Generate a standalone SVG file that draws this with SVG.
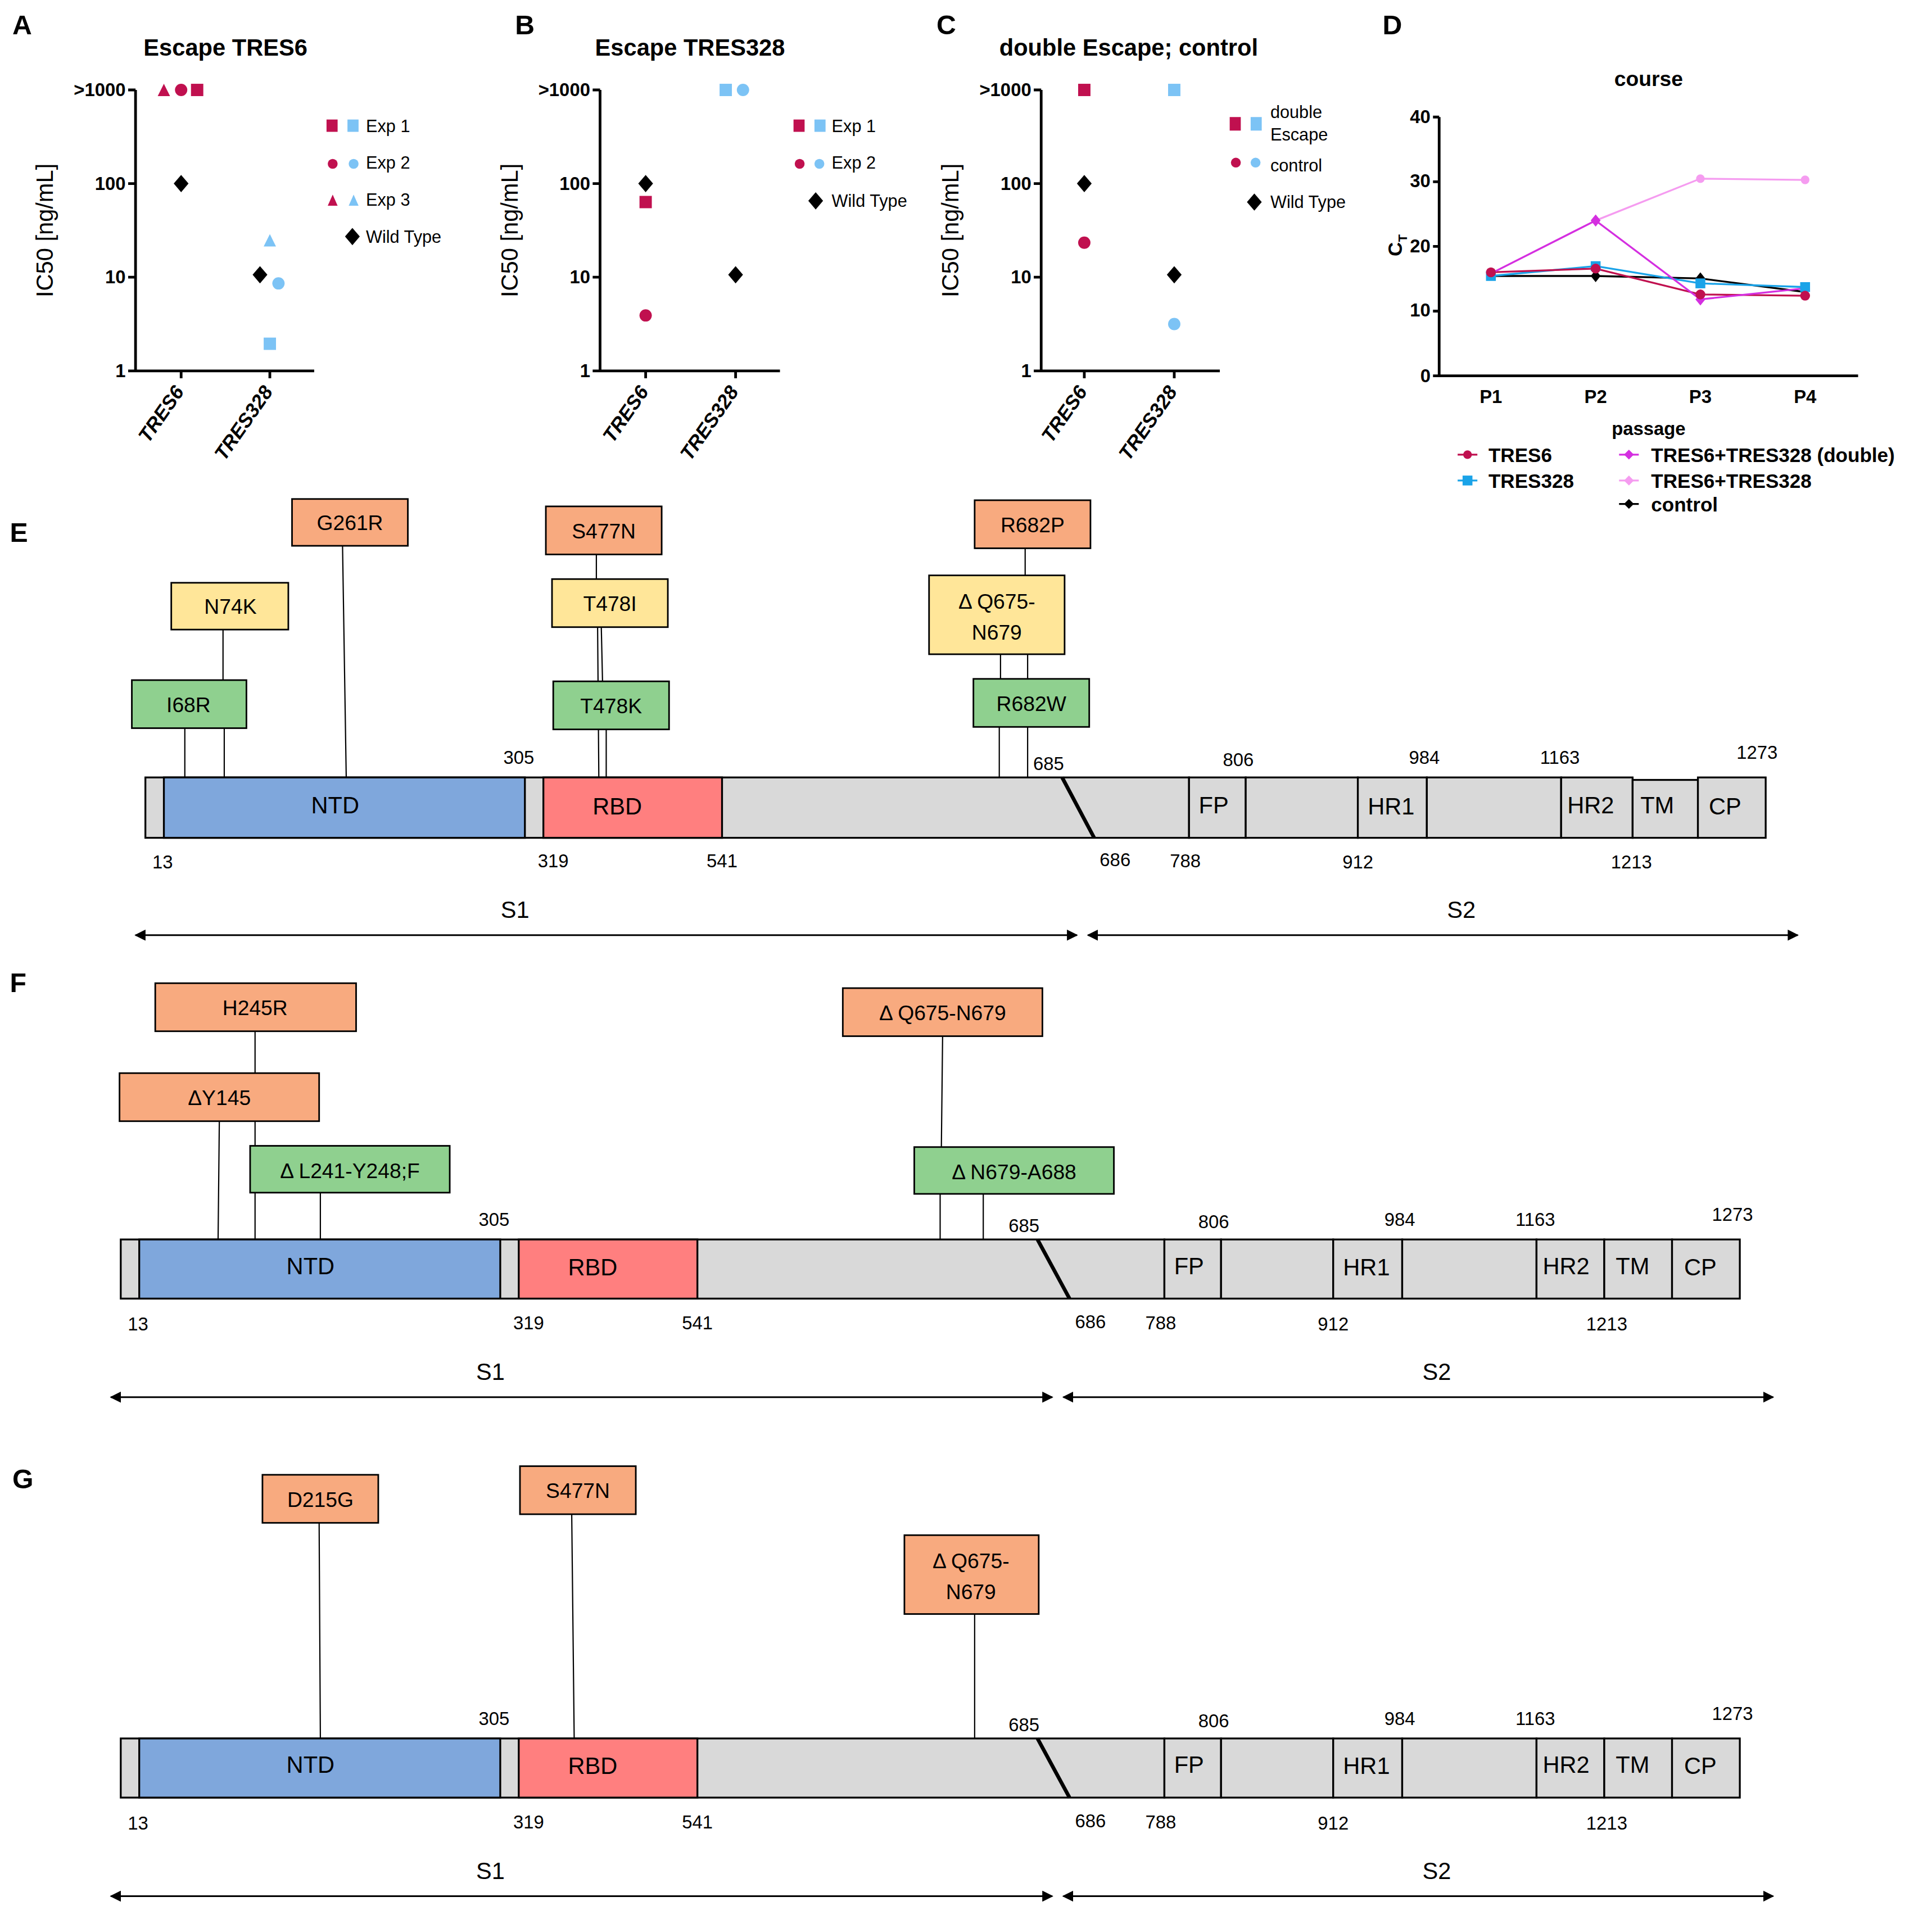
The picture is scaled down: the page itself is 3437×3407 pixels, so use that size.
<svg xmlns="http://www.w3.org/2000/svg" width="3437" height="3407" viewBox="0 0 3437 3407">
<style>
text{font-family:"Liberation Sans",Arial,sans-serif;fill:#000}
.pl{font-size:22px;font-weight:bold}
.ti{font-size:19px;font-weight:bold}
.tk{font-size:15px;font-weight:bold;text-anchor:end}
.yl{font-size:19px;text-anchor:middle}
.cat{font-size:16px;font-weight:bold;font-style:italic;text-anchor:end}
.lg{font-size:14px}
.ax{stroke:#000;stroke-width:2.2;fill:none}
.bx{stroke:#000;stroke-width:1.3}
.or{fill:#F8AA7F}.ye{fill:#FFE699}.gr{fill:#8FD08F}
.ml{font-size:17px;text-anchor:middle}
.num{font-size:15px;text-anchor:middle}
.dom{stroke:#000;stroke-width:1.5;fill:#D9D9D9}
.dl{font-size:19px;text-anchor:middle}
.cn{stroke:#000;stroke-width:1;fill:none}
.ar{stroke-width:1.3;marker-start:url(#ah);marker-end:url(#ah)}
.dt{font-size:15px;font-weight:bold;text-anchor:middle}
.r{fill:#C0104F}.b{fill:#7CC3F5}.k{fill:#000}
</style>
<defs>
<marker id="ah" viewBox="0 0 10 10" refX="9" refY="5" markerWidth="9" markerHeight="9" markerUnits="userSpaceOnUse" orient="auto-start-reverse"><path d="M0,0L10,5L0,10z" fill="#000"/></marker>
<symbol id="dia" viewBox="-6 -8 12 16" overflow="visible"><path d="M0,-7L6,0L0,7L-6,0z"/></symbol>
</defs>
<rect width="3437" height="3407" fill="#fff"/>
<g transform="scale(2.192)">
<text class="pl" x="10" y="28">A</text><text class="pl" x="418" y="28">B</text><text class="pl" x="760" y="28">C</text><text class="pl" x="1122" y="28">D</text>
<text class="pl" x="8" y="440">E</text><text class="pl" x="8" y="805">F</text><text class="pl" x="10" y="1208">G</text>

<g id="panelA">
<text class="ti" x="183" y="45" text-anchor="middle">Escape TRES6</text>
<path class="ax" d="M110,73V301H255M147,301v6M219,301v6M104,73h6M104,149h6M104,225h6M104,301h6"/>
<text class="tk" x="102" y="78">&gt;1000</text><text class="tk" x="102" y="154">100</text><text class="tk" x="102" y="230">10</text><text class="tk" x="102" y="306">1</text>
<text class="yl" transform="translate(43,187) rotate(-90)">IC50 [ng/mL]</text>
<text class="cat" transform="translate(150,318) rotate(-55)">TRES6</text>
<text class="cat" transform="translate(222,318) rotate(-55)">TRES328</text>
<path class="r" d="M128,78L133,68L138,78z"/><circle class="r" cx="147" cy="73" r="5"/><rect class="r" x="155" y="68" width="10" height="10"/>
<use href="#dia" x="141" y="141" width="12" height="16"/>
<path class="b" d="M214,200L219,190L224,200z"/><use href="#dia" x="205" y="215" width="12" height="16"/><circle class="b" cx="226" cy="230" r="5"/><rect class="b" x="214" y="274" width="10" height="10"/>
<rect class="r" x="265" y="97" width="9" height="10"/><rect class="b" x="282" y="97" width="9" height="10"/><text class="lg" x="297" y="107">Exp 1</text>
<circle class="r" cx="270" cy="133" r="4"/><circle class="b" cx="287" cy="133" r="4"/><text class="lg" x="297" y="137">Exp 2</text>
<path class="r" d="M266,167L270,158L274,167z"/><path class="b" d="M283,167L287,158L291,167z"/><text class="lg" x="297" y="167">Exp 3</text>
<use href="#dia" x="280" y="184" width="12" height="16"/><text class="lg" x="297" y="197">Wild Type</text>
</g>

<g id="panelB">
<text class="ti" x="560" y="45" text-anchor="middle">Escape TRES328</text>
<path class="ax" d="M487,73V301H633M524,301v6M597,301v6M481,73h6M481,149h6M481,225h6M481,301h6"/>
<text class="tk" x="479" y="78">&gt;1000</text><text class="tk" x="479" y="154">100</text><text class="tk" x="479" y="230">10</text><text class="tk" x="479" y="306">1</text>
<text class="yl" transform="translate(420,187) rotate(-90)">IC50 [ng/mL]</text>
<text class="cat" transform="translate(527,318) rotate(-55)">TRES6</text>
<text class="cat" transform="translate(600,318) rotate(-55)">TRES328</text>
<use href="#dia" x="518" y="141" width="12" height="16"/><rect class="r" x="519" y="159" width="10" height="10"/><circle class="r" cx="524" cy="256" r="5"/>
<rect class="b" x="584" y="68" width="10" height="10"/><circle class="b" cx="603" cy="73" r="5"/><use href="#dia" x="591" y="215" width="12" height="16"/>
<rect class="r" x="644" y="97" width="9" height="10"/><rect class="b" x="661" y="97" width="9" height="10"/><text class="lg" x="675" y="107">Exp 1</text>
<circle class="r" cx="649" cy="133" r="4"/><circle class="b" cx="665" cy="133" r="4"/><text class="lg" x="675" y="137">Exp 2</text>
<use href="#dia" x="656" y="155" width="12" height="16"/><text class="lg" x="675" y="168">Wild  Type</text>
</g>

<g id="panelC">
<text class="ti" x="916" y="45" text-anchor="middle">double Escape; control</text>
<path class="ax" d="M845,73V301H990M880,301v6M953,301v6M839,73h6M839,149h6M839,225h6M839,301h6"/>
<text class="tk" x="837" y="78">&gt;1000</text><text class="tk" x="837" y="154">100</text><text class="tk" x="837" y="230">10</text><text class="tk" x="837" y="306">1</text>
<text class="yl" transform="translate(778,187) rotate(-90)">IC50 [ng/mL]</text>
<text class="cat" transform="translate(883,318) rotate(-55)">TRES6</text>
<text class="cat" transform="translate(956,318) rotate(-55)">TRES328</text>
<rect class="r" x="875" y="68" width="10" height="10"/><use href="#dia" x="874" y="141" width="12" height="16"/><circle class="r" cx="880" cy="197" r="5"/>
<rect class="b" x="948" y="68" width="10" height="10"/><use href="#dia" x="947" y="215" width="12" height="16"/><circle class="b" cx="953" cy="263" r="5"/>
<rect class="r" x="998" y="95" width="9" height="11"/><rect class="b" x="1015" y="95" width="9" height="11"/><text class="lg" x="1031" y="96">double</text><text class="lg" x="1031" y="114">Escape</text>
<circle class="r" cx="1003" cy="132" r="4"/><circle class="b" cx="1019" cy="132" r="4"/><text class="lg" x="1031" y="139">control</text>
<use href="#dia" x="1012" y="156" width="12" height="16"/><text class="lg" x="1031" y="169">Wild  Type</text>
</g>

<g id="panelD">
<text class="ti" x="1338" y="70" text-anchor="middle" style="font-size:17px">course</text>
<path class="ax" d="M1168,95V305H1508M1163,95h5M1163,147.5h5M1163,200h5M1163,252.5h5M1163,305h5"/>
<text class="tk" x="1161" y="100">40</text><text class="tk" x="1161" y="152">30</text><text class="tk" x="1161" y="205">20</text><text class="tk" x="1161" y="257">10</text><text class="tk" x="1161" y="310">0</text>
<text class="dt" x="1210" y="327">P1</text><text class="dt" x="1295" y="327">P2</text><text class="dt" x="1380" y="327">P3</text><text class="dt" x="1465" y="327">P4</text>
<text class="dt" x="1338" y="353">passage</text>
<text transform="translate(1138,208) rotate(-90)" style="font-size:16px;font-weight:bold">C<tspan dy="4" style="font-size:10px">T</tspan></text>
<g fill="none" stroke-width="1.5">
<polyline stroke="#F59CF0" points="1210,222 1295,179 1380,145 1465,146"/>
<polyline stroke="#000" points="1210,224 1295,224 1380,226 1465,237"/>
<polyline stroke="#1AA3E8" points="1210,224 1295,216 1380,230 1465,233"/>
<polyline stroke="#C0104F" points="1210,221 1295,218 1380,239 1465,240"/>
<polyline stroke="#D42FE0" points="1210,222 1295,179 1380,243 1465,234"/>
</g>
<g fill="#F59CF0"><circle cx="1380" cy="145" r="3.5"/><circle cx="1465" cy="146" r="3.5"/></g>
<g fill="#D42FE0"><path d="M1295,174l4,5l-4,5l-4,-5z"/><path d="M1380,238l4,5l-4,5l-4,-5z"/></g>
<g fill="#000"><path d="M1295,219l4,5l-4,5l-4,-5z"/><path d="M1380,221l4,5l-4,5l-4,-5z"/></g>
<g fill="#1AA3E8"><rect x="1206" y="220" width="8" height="8"/><rect x="1291" y="212" width="8" height="8"/><rect x="1376" y="226" width="8" height="8"/><rect x="1461" y="229" width="8" height="8"/></g>
<g fill="#C0104F"><circle cx="1210" cy="221" r="4"/><circle cx="1295" cy="218" r="4"/><circle cx="1380" cy="239" r="4"/><circle cx="1465" cy="240" r="4"/></g>
<g style="font-size:16px;font-weight:bold">
<path d="M1183,369h16" stroke="#C0104F" stroke-width="1.5"/><circle cx="1191" cy="369" r="3.5" fill="#C0104F"/><text x="1208" y="375">TRES6</text>
<path d="M1183,390h16" stroke="#1AA3E8" stroke-width="1.5"/><rect x="1187" y="386" width="8" height="8" fill="#1AA3E8"/><text x="1208" y="396">TRES328</text>
<path d="M1314,369h16" stroke="#D42FE0" stroke-width="1.5"/><path d="M1322,365l4,4l-4,4l-4,-4z" fill="#D42FE0"/><text x="1340" y="375">TRES6+TRES328 (double)</text>
<path d="M1314,390h16" stroke="#F59CF0" stroke-width="1.5"/><path d="M1322,386l4,4l-4,4l-4,-4z" fill="#F59CF0"/><text x="1340" y="396">TRES6+TRES328</text>
<path d="M1314,409h16" stroke="#000" stroke-width="1.5"/><path d="M1322,405l4,4l-4,4l-4,-4z" fill="#000"/><text x="1340" y="415">control</text>
</g>
</g>

<g id="connectors" class="cn">
<path d="M278,443L281,631M181,511V552M182,591V631M150,591V631M484,450V470M485,509L486,631M488,509L489,553M492,592V631M832,445V467M812,531V551M811,590V631M834,531V551M834,590V631"/>
<path d="M207,837V871M207,910V1006M178,910L177,1006M260,968V1006M765,841L764,931M763,969V1006M798,969V1006"/>
<path d="M259,1236L260,1411M464,1229L466,1411M791,1310V1411"/>
<path class="ar" d="M110,759H874"/><path class="ar" d="M883,759H1459"/>
<path class="ar" d="M90,1134H854"/><path class="ar" d="M863,1134H1439"/>
<path class="ar" d="M90,1539H854"/><path class="ar" d="M863,1539H1439"/>
</g>

<g id="barE">
<rect class="dom" x="118" y="631" width="847" height="49"/>
<rect class="dom" x="133" y="631" width="293" height="49" style="fill:#7FA7DC"/>
<rect class="dom" x="441" y="631" width="145" height="49" style="fill:#FF7F7F"/>
<path d="M862,631L888,680" stroke="#000" stroke-width="3"/>
<rect class="dom" x="965" y="631" width="46" height="49"/><rect class="dom" x="1011" y="631" width="91" height="49"/><rect class="dom" x="1102" y="631" width="56" height="49"/><rect class="dom" x="1158" y="631" width="109" height="49"/><rect class="dom" x="1267" y="631" width="58" height="49"/><rect class="dom" x="1325" y="633" width="53" height="47"/><rect class="dom" x="1378" y="631" width="55" height="49"/>
<text class="dl" x="272" y="660">NTD</text><text class="dl" x="501" y="661">RBD</text><text class="dl" x="985" y="660">FP</text><text class="dl" x="1129" y="661">HR1</text><text class="dl" x="1291" y="660">HR2</text><text class="dl" x="1345" y="660">TM</text><text class="dl" x="1400" y="661">CP</text>
<text class="num" x="421" y="620">305</text><text class="num" x="851" y="625">685</text><text class="num" x="1005" y="622">806</text><text class="num" x="1156" y="620">984</text><text class="num" x="1266" y="620">1163</text><text class="num" x="1426" y="616">1273</text>
<text class="num" x="132" y="705">13</text><text class="num" x="449" y="704">319</text><text class="num" x="586" y="704">541</text><text class="num" x="905" y="703">686</text><text class="num" x="962" y="704">788</text><text class="num" x="1102" y="705">912</text><text class="num" x="1324" y="705">1213</text>
<text class="dl" x="418" y="745">S1</text><text class="dl" x="1186" y="745">S2</text>
</g>
<g id="mutE">
<g id="G261R"><rect class="bx or" x="237" y="405" width="94" height="38"/><text class="ml" x="284" y="430">G261R</text></g>
<g id="N74K"><rect class="bx ye" x="139" y="473" width="95" height="38"/><text class="ml" x="187" y="498">N74K</text></g>
<g id="I68R"><rect class="bx gr" x="107" y="552" width="93" height="39"/><text class="ml" x="153" y="578">I68R</text></g>
<g id="S477N_E"><rect class="bx or" x="443" y="411" width="94" height="39"/><text class="ml" x="490" y="437">S477N</text></g>
<g id="T478I"><rect class="bx ye" x="448" y="470" width="94" height="39"/><text class="ml" x="495" y="496">T478I</text></g>
<g id="T478K"><rect class="bx gr" x="449" y="553" width="94" height="39"/><text class="ml" x="496" y="579">T478K</text></g>
<g id="R682P"><rect class="bx or" x="791" y="406" width="94" height="39"/><text class="ml" x="838" y="432">R682P</text></g>
<g id="dQ675_E"><rect class="bx ye" x="754" y="467" width="110" height="64"/><text class="ml" x="809" y="494">Δ  Q675-</text><text class="ml" x="809" y="519">N679</text></g>
<g id="R682W"><rect class="bx gr" x="790" y="551" width="94" height="39"/><text class="ml" x="837" y="577">R682W</text></g>
</g>

<g id="barF">
<rect class="dom" x="98" y="1006" width="847" height="48"/>
<rect class="dom" x="113" y="1006" width="293" height="48" style="fill:#7FA7DC"/>
<rect class="dom" x="421" y="1006" width="145" height="48" style="fill:#FF7F7F"/>
<path d="M842,1006L868,1054" stroke="#000" stroke-width="3"/>
<rect class="dom" x="945" y="1006" width="46" height="48"/><rect class="dom" x="991" y="1006" width="91" height="48"/><rect class="dom" x="1082" y="1006" width="56" height="48"/><rect class="dom" x="1138" y="1006" width="109" height="48"/><rect class="dom" x="1247" y="1006" width="55" height="48"/><rect class="dom" x="1302" y="1006" width="55" height="48"/><rect class="dom" x="1357" y="1006" width="55" height="48"/>
<text class="dl" x="252" y="1034">NTD</text><text class="dl" x="481" y="1035">RBD</text><text class="dl" x="965" y="1034">FP</text><text class="dl" x="1109" y="1035">HR1</text><text class="dl" x="1271" y="1034">HR2</text><text class="dl" x="1325" y="1034">TM</text><text class="dl" x="1380" y="1035">CP</text>
<text class="num" x="401" y="995">305</text><text class="num" x="831" y="1000">685</text><text class="num" x="985" y="997">806</text><text class="num" x="1136" y="995">984</text><text class="num" x="1246" y="995">1163</text><text class="num" x="1406" y="991">1273</text>
<text class="num" x="112" y="1080">13</text><text class="num" x="429" y="1079">319</text><text class="num" x="566" y="1079">541</text><text class="num" x="885" y="1078">686</text><text class="num" x="942" y="1079">788</text><text class="num" x="1082" y="1080">912</text><text class="num" x="1304" y="1080">1213</text>
<text class="dl" x="398" y="1120">S1</text><text class="dl" x="1166" y="1120">S2</text>
</g>
<g id="mutF">
<g id="H245R"><rect class="bx or" x="126" y="798" width="163" height="39"/><text class="ml" x="207" y="824">H245R</text></g>
<g id="dY145"><rect class="bx or" x="97" y="871" width="162" height="39"/><text class="ml" x="178" y="897">ΔY145</text></g>
<g id="dL241"><rect class="bx gr" x="203" y="930" width="162" height="38"/><text class="ml" x="284" y="956">Δ  L241-Y248;F</text></g>
<g id="dQ675_F"><rect class="bx or" x="684" y="802" width="162" height="39"/><text class="ml" x="765" y="828">Δ Q675-N679</text></g>
<g id="dN679"><rect class="bx gr" x="742" y="931" width="162" height="38"/><text class="ml" x="823" y="957">Δ N679-A688</text></g>
</g>

<g id="barG">
<rect class="dom" x="98" y="1411" width="847" height="48"/>
<rect class="dom" x="113" y="1411" width="293" height="48" style="fill:#7FA7DC"/>
<rect class="dom" x="421" y="1411" width="145" height="48" style="fill:#FF7F7F"/>
<path d="M842,1411L868,1459" stroke="#000" stroke-width="3"/>
<rect class="dom" x="945" y="1411" width="46" height="48"/><rect class="dom" x="991" y="1411" width="91" height="48"/><rect class="dom" x="1082" y="1411" width="56" height="48"/><rect class="dom" x="1138" y="1411" width="109" height="48"/><rect class="dom" x="1247" y="1411" width="55" height="48"/><rect class="dom" x="1302" y="1411" width="55" height="48"/><rect class="dom" x="1357" y="1411" width="55" height="48"/>
<text class="dl" x="252" y="1439">NTD</text><text class="dl" x="481" y="1440">RBD</text><text class="dl" x="965" y="1439">FP</text><text class="dl" x="1109" y="1440">HR1</text><text class="dl" x="1271" y="1439">HR2</text><text class="dl" x="1325" y="1439">TM</text><text class="dl" x="1380" y="1440">CP</text>
<text class="num" x="401" y="1400">305</text><text class="num" x="831" y="1405">685</text><text class="num" x="985" y="1402">806</text><text class="num" x="1136" y="1400">984</text><text class="num" x="1246" y="1400">1163</text><text class="num" x="1406" y="1396">1273</text>
<text class="num" x="112" y="1485">13</text><text class="num" x="429" y="1484">319</text><text class="num" x="566" y="1484">541</text><text class="num" x="885" y="1483">686</text><text class="num" x="942" y="1484">788</text><text class="num" x="1082" y="1485">912</text><text class="num" x="1304" y="1485">1213</text>
<text class="dl" x="398" y="1525">S1</text><text class="dl" x="1166" y="1525">S2</text>
</g>
<g id="mutG">
<g id="D215G"><rect class="bx or" x="213" y="1197" width="94" height="39"/><text class="ml" x="260" y="1223">D215G</text></g>
<g id="S477N_G"><rect class="bx or" x="422" y="1190" width="94" height="39"/><text class="ml" x="469" y="1216">S477N</text></g>
<g id="dQ675_G"><rect class="bx or" x="734" y="1246" width="109" height="64"/><text class="ml" x="788" y="1273">Δ  Q675-</text><text class="ml" x="788" y="1298">N679</text></g>
</g>
</g>
</svg>
